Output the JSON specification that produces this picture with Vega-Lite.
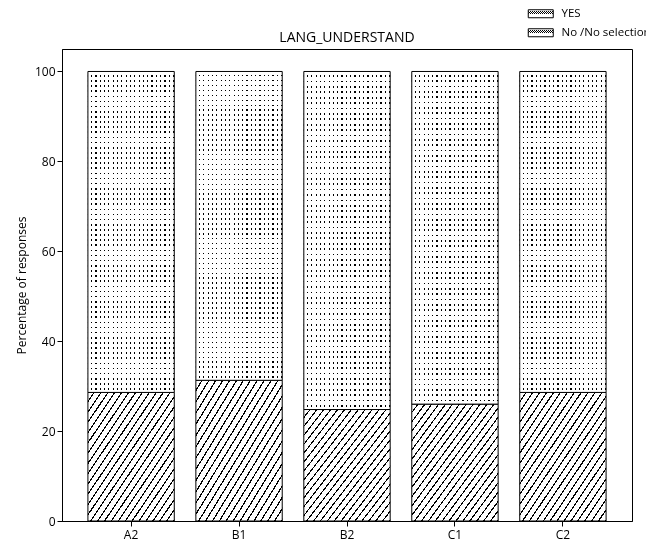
{
  "$schema": "https://vega.github.io/schema/vega-lite/v6.json",
  "width": 570,
  "height": 472,
  "autosize": {"type": "none"},
  "padding": {"left": 62, "top": 49, "right": 14, "bottom": 22},
  "title": {"text": "LANG_UNDERSTAND", "fontSize": 14, "fontWeight": "normal", "font": "Open Sans", "color": "black", "offset": 7, "dy": 44},
  "data": {"values": [
    {"level": "A2", "resp": "YES", "pct": 28.6},
    {"level": "A2", "resp": "No /No selection", "pct": 71.4},
    {"level": "B1", "resp": "YES", "pct": 31.3},
    {"level": "B1", "resp": "No /No selection", "pct": 68.7},
    {"level": "B2", "resp": "YES", "pct": 24.8},
    {"level": "B2", "resp": "No /No selection", "pct": 75.2},
    {"level": "C1", "resp": "YES", "pct": 26.0},
    {"level": "C1", "resp": "No /No selection", "pct": 74.0},
    {"level": "C2", "resp": "YES", "pct": 28.6},
    {"level": "C2", "resp": "No /No selection", "pct": 71.4}
  ]},
  "transform": [
    {"stack": "pct", "groupby": ["level"], "sort": [{"field": "resp", "order": "descending"}], "as": ["v0", "v1"]}
  ],
  "encoding": {
    "x": {"field": "level", "type": "nominal", "sort": ["A2", "B1", "B2", "C1", "C2"],
          "scale": {"paddingInner": 0.2, "paddingOuter": 0.24},
          "axis": {"title": null, "labelAngle": 0, "labelPadding": 3}},
    "y": {"field": "v1", "type": "quantitative",
          "scale": {"domain": [0, 105], "nice": false, "zero": true},
          "axis": {"title": "Percentage of responses", "values": [0, 20, 40, 60, 80, 100], "titlePadding": 6, "labelPadding": 2}},
    "y2": {"field": "v0"}
  },
  "layer": [
    {
      "transform": [{"filter": "datum.resp === 'YES'"}],
      "mark": {"type": "bar", "strokeWidth": 1,
        "fill": {"gradient": "linear", "x1": 0, "y1": 0, "x2": 1, "y2": 1, "stops": [
              {"offset": 0, "color": "#fff"}, {"offset": 0.032, "color": "#fff"}, {"offset": 0.032, "color": "#000"}, {"offset": 0.04, "color": "#000"},
              {"offset": 0.04, "color": "#fff"}, {"offset": 0.072, "color": "#fff"}, {"offset": 0.072, "color": "#000"}, {"offset": 0.08, "color": "#000"},
              {"offset": 0.08, "color": "#fff"}, {"offset": 0.112, "color": "#fff"}, {"offset": 0.112, "color": "#000"}, {"offset": 0.12, "color": "#000"},
              {"offset": 0.12, "color": "#fff"}, {"offset": 0.152, "color": "#fff"}, {"offset": 0.152, "color": "#000"}, {"offset": 0.16, "color": "#000"},
              {"offset": 0.16, "color": "#fff"}, {"offset": 0.192, "color": "#fff"}, {"offset": 0.192, "color": "#000"}, {"offset": 0.2, "color": "#000"},
              {"offset": 0.2, "color": "#fff"}, {"offset": 0.232, "color": "#fff"}, {"offset": 0.232, "color": "#000"}, {"offset": 0.24, "color": "#000"},
              {"offset": 0.24, "color": "#fff"}, {"offset": 0.272, "color": "#fff"}, {"offset": 0.272, "color": "#000"}, {"offset": 0.28, "color": "#000"},
              {"offset": 0.28, "color": "#fff"}, {"offset": 0.312, "color": "#fff"}, {"offset": 0.312, "color": "#000"}, {"offset": 0.32, "color": "#000"},
              {"offset": 0.32, "color": "#fff"}, {"offset": 0.352, "color": "#fff"}, {"offset": 0.352, "color": "#000"}, {"offset": 0.36, "color": "#000"},
              {"offset": 0.36, "color": "#fff"}, {"offset": 0.392, "color": "#fff"}, {"offset": 0.392, "color": "#000"}, {"offset": 0.4, "color": "#000"},
              {"offset": 0.4, "color": "#fff"}, {"offset": 0.432, "color": "#fff"}, {"offset": 0.432, "color": "#000"}, {"offset": 0.44, "color": "#000"},
              {"offset": 0.44, "color": "#fff"}, {"offset": 0.472, "color": "#fff"}, {"offset": 0.472, "color": "#000"}, {"offset": 0.48, "color": "#000"},
              {"offset": 0.48, "color": "#fff"}, {"offset": 0.512, "color": "#fff"}, {"offset": 0.512, "color": "#000"}, {"offset": 0.52, "color": "#000"},
              {"offset": 0.52, "color": "#fff"}, {"offset": 0.552, "color": "#fff"}, {"offset": 0.552, "color": "#000"}, {"offset": 0.56, "color": "#000"},
              {"offset": 0.56, "color": "#fff"}, {"offset": 0.592, "color": "#fff"}, {"offset": 0.592, "color": "#000"}, {"offset": 0.6, "color": "#000"},
              {"offset": 0.6, "color": "#fff"}, {"offset": 0.632, "color": "#fff"}, {"offset": 0.632, "color": "#000"}, {"offset": 0.64, "color": "#000"},
              {"offset": 0.64, "color": "#fff"}, {"offset": 0.672, "color": "#fff"}, {"offset": 0.672, "color": "#000"}, {"offset": 0.68, "color": "#000"},
              {"offset": 0.68, "color": "#fff"}, {"offset": 0.712, "color": "#fff"}, {"offset": 0.712, "color": "#000"}, {"offset": 0.72, "color": "#000"},
              {"offset": 0.72, "color": "#fff"}, {"offset": 0.752, "color": "#fff"}, {"offset": 0.752, "color": "#000"}, {"offset": 0.76, "color": "#000"},
              {"offset": 0.76, "color": "#fff"}, {"offset": 0.792, "color": "#fff"}, {"offset": 0.792, "color": "#000"}, {"offset": 0.8, "color": "#000"},
              {"offset": 0.8, "color": "#fff"}, {"offset": 0.832, "color": "#fff"}, {"offset": 0.832, "color": "#000"}, {"offset": 0.84, "color": "#000"},
              {"offset": 0.84, "color": "#fff"}, {"offset": 0.872, "color": "#fff"}, {"offset": 0.872, "color": "#000"}, {"offset": 0.88, "color": "#000"},
              {"offset": 0.88, "color": "#fff"}, {"offset": 0.912, "color": "#fff"}, {"offset": 0.912, "color": "#000"}, {"offset": 0.92, "color": "#000"},
              {"offset": 0.92, "color": "#fff"}, {"offset": 0.952, "color": "#fff"}, {"offset": 0.952, "color": "#000"}, {"offset": 0.96, "color": "#000"},
              {"offset": 0.96, "color": "#fff"}, {"offset": 0.992, "color": "#fff"}, {"offset": 0.992, "color": "#000"}, {"offset": 1, "color": "#000"}
        ]}
      },
      "encoding": {
        "stroke": {"field": "resp", "type": "nominal",
          "scale": {"domain": ["YES", "No /No selection"], "range": ["black", "black"]},
          "legend": {
            "title": null, "orient": "none", "legendX": 473, "legendY": -41, "padding": 0,
            "labelFont": "Open Sans", "labelFontSize": 11.5, "labelColor": "black", "labelOffset": 15, "labelLimit": 300,
            "symbolType": "M-2.5,-0.8H2.5V0.8H-2.5Z", "symbolSize": 100, "symbolStrokeWidth": 1, "rowPadding": 6,
            "encode": {"symbols": {"update": {"fill": {"signal": "datum.value === 'YES' ? {gradient:'linear',x1:0,y1:0,x2:1,y2:1,stops:[{offset:0,color:'#fff'},{offset:0.1,color:'#fff'},{offset:0.1,color:'#000'},{offset:0.125,color:'#000'},{offset:0.125,color:'#fff'},{offset:0.225,color:'#fff'},{offset:0.225,color:'#000'},{offset:0.25,color:'#000'},{offset:0.25,color:'#fff'},{offset:0.35,color:'#fff'},{offset:0.35,color:'#000'},{offset:0.375,color:'#000'},{offset:0.375,color:'#fff'},{offset:0.475,color:'#fff'},{offset:0.475,color:'#000'},{offset:0.5,color:'#000'},{offset:0.5,color:'#fff'},{offset:0.6,color:'#fff'},{offset:0.6,color:'#000'},{offset:0.625,color:'#000'},{offset:0.625,color:'#fff'},{offset:0.725,color:'#fff'},{offset:0.725,color:'#000'},{offset:0.75,color:'#000'},{offset:0.75,color:'#fff'},{offset:0.85,color:'#fff'},{offset:0.85,color:'#000'},{offset:0.875,color:'#000'},{offset:0.875,color:'#fff'},{offset:0.975,color:'#fff'},{offset:0.975,color:'#000'},{offset:1,color:'#000'}]} : {gradient:'linear',x1:0,y1:0,x2:0,y2:1,stops:[{offset:0,color:'#fff'},{offset:0.2,color:'#fff'},{offset:0.2,color:'#555'},{offset:0.35,color:'#555'},{offset:0.35,color:'#fff'},{offset:0.65,color:'#fff'},{offset:0.65,color:'#555'},{offset:0.8,color:'#555'},{offset:0.8,color:'#fff'},{offset:1,color:'#fff'}]}"}, "opacity": {"value": 1}, "fillOpacity": {"value": 1}}}}
          }
        }
      }
    },
    {
      "transform": [{"filter": "datum.resp !== 'YES'"}],
      "mark": {"type": "bar", "strokeWidth": 1,
        "fill": {"gradient": "linear", "x1": 0, "y1": 0, "x2": 0, "y2": 1, "stops": [
              {"offset": 0, "color": "#fff"}, {"offset": 0.011, "color": "#fff"}, {"offset": 0.011, "color": "#000"}, {"offset": 0.016, "color": "#000"},
              {"offset": 0.016, "color": "#fff"}, {"offset": 0.027, "color": "#fff"}, {"offset": 0.027, "color": "#000"}, {"offset": 0.032, "color": "#000"},
              {"offset": 0.032, "color": "#fff"}, {"offset": 0.043, "color": "#fff"}, {"offset": 0.043, "color": "#000"}, {"offset": 0.048, "color": "#000"},
              {"offset": 0.048, "color": "#fff"}, {"offset": 0.059, "color": "#fff"}, {"offset": 0.059, "color": "#000"}, {"offset": 0.064, "color": "#000"},
              {"offset": 0.064, "color": "#fff"}, {"offset": 0.075, "color": "#fff"}, {"offset": 0.075, "color": "#000"}, {"offset": 0.08, "color": "#000"},
              {"offset": 0.08, "color": "#fff"}, {"offset": 0.091, "color": "#fff"}, {"offset": 0.091, "color": "#000"}, {"offset": 0.096, "color": "#000"},
              {"offset": 0.096, "color": "#fff"}, {"offset": 0.107, "color": "#fff"}, {"offset": 0.107, "color": "#000"}, {"offset": 0.112, "color": "#000"},
              {"offset": 0.112, "color": "#fff"}, {"offset": 0.123, "color": "#fff"}, {"offset": 0.123, "color": "#000"}, {"offset": 0.128, "color": "#000"},
              {"offset": 0.128, "color": "#fff"}, {"offset": 0.139, "color": "#fff"}, {"offset": 0.139, "color": "#000"}, {"offset": 0.144, "color": "#000"},
              {"offset": 0.144, "color": "#fff"}, {"offset": 0.155, "color": "#fff"}, {"offset": 0.155, "color": "#000"}, {"offset": 0.16, "color": "#000"},
              {"offset": 0.16, "color": "#fff"}, {"offset": 0.171, "color": "#fff"}, {"offset": 0.171, "color": "#000"}, {"offset": 0.176, "color": "#000"},
              {"offset": 0.176, "color": "#fff"}, {"offset": 0.187, "color": "#fff"}, {"offset": 0.187, "color": "#000"}, {"offset": 0.192, "color": "#000"},
              {"offset": 0.192, "color": "#fff"}, {"offset": 0.203, "color": "#fff"}, {"offset": 0.203, "color": "#000"}, {"offset": 0.208, "color": "#000"},
              {"offset": 0.208, "color": "#fff"}, {"offset": 0.219, "color": "#fff"}, {"offset": 0.219, "color": "#000"}, {"offset": 0.224, "color": "#000"},
              {"offset": 0.224, "color": "#fff"}, {"offset": 0.235, "color": "#fff"}, {"offset": 0.235, "color": "#000"}, {"offset": 0.24, "color": "#000"},
              {"offset": 0.24, "color": "#fff"}, {"offset": 0.251, "color": "#fff"}, {"offset": 0.251, "color": "#000"}, {"offset": 0.256, "color": "#000"},
              {"offset": 0.256, "color": "#fff"}, {"offset": 0.267, "color": "#fff"}, {"offset": 0.267, "color": "#000"}, {"offset": 0.272, "color": "#000"},
              {"offset": 0.272, "color": "#fff"}, {"offset": 0.283, "color": "#fff"}, {"offset": 0.283, "color": "#000"}, {"offset": 0.288, "color": "#000"},
              {"offset": 0.288, "color": "#fff"}, {"offset": 0.299, "color": "#fff"}, {"offset": 0.299, "color": "#000"}, {"offset": 0.304, "color": "#000"},
              {"offset": 0.304, "color": "#fff"}, {"offset": 0.315, "color": "#fff"}, {"offset": 0.315, "color": "#000"}, {"offset": 0.32, "color": "#000"},
              {"offset": 0.32, "color": "#fff"}, {"offset": 0.331, "color": "#fff"}, {"offset": 0.331, "color": "#000"}, {"offset": 0.336, "color": "#000"},
              {"offset": 0.336, "color": "#fff"}, {"offset": 0.347, "color": "#fff"}, {"offset": 0.347, "color": "#000"}, {"offset": 0.352, "color": "#000"},
              {"offset": 0.352, "color": "#fff"}, {"offset": 0.363, "color": "#fff"}, {"offset": 0.363, "color": "#000"}, {"offset": 0.368, "color": "#000"},
              {"offset": 0.368, "color": "#fff"}, {"offset": 0.379, "color": "#fff"}, {"offset": 0.379, "color": "#000"}, {"offset": 0.384, "color": "#000"},
              {"offset": 0.384, "color": "#fff"}, {"offset": 0.395, "color": "#fff"}, {"offset": 0.395, "color": "#000"}, {"offset": 0.4, "color": "#000"},
              {"offset": 0.4, "color": "#fff"}, {"offset": 0.411, "color": "#fff"}, {"offset": 0.411, "color": "#000"}, {"offset": 0.416, "color": "#000"},
              {"offset": 0.416, "color": "#fff"}, {"offset": 0.427, "color": "#fff"}, {"offset": 0.427, "color": "#000"}, {"offset": 0.432, "color": "#000"},
              {"offset": 0.432, "color": "#fff"}, {"offset": 0.443, "color": "#fff"}, {"offset": 0.443, "color": "#000"}, {"offset": 0.448, "color": "#000"},
              {"offset": 0.448, "color": "#fff"}, {"offset": 0.459, "color": "#fff"}, {"offset": 0.459, "color": "#000"}, {"offset": 0.464, "color": "#000"},
              {"offset": 0.464, "color": "#fff"}, {"offset": 0.475, "color": "#fff"}, {"offset": 0.475, "color": "#000"}, {"offset": 0.48, "color": "#000"},
              {"offset": 0.48, "color": "#fff"}, {"offset": 0.491, "color": "#fff"}, {"offset": 0.491, "color": "#000"}, {"offset": 0.496, "color": "#000"},
              {"offset": 0.496, "color": "#fff"}, {"offset": 0.507, "color": "#fff"}, {"offset": 0.507, "color": "#000"}, {"offset": 0.512, "color": "#000"},
              {"offset": 0.512, "color": "#fff"}, {"offset": 0.523, "color": "#fff"}, {"offset": 0.523, "color": "#000"}, {"offset": 0.528, "color": "#000"},
              {"offset": 0.528, "color": "#fff"}, {"offset": 0.539, "color": "#fff"}, {"offset": 0.539, "color": "#000"}, {"offset": 0.544, "color": "#000"},
              {"offset": 0.544, "color": "#fff"}, {"offset": 0.555, "color": "#fff"}, {"offset": 0.555, "color": "#000"}, {"offset": 0.56, "color": "#000"},
              {"offset": 0.56, "color": "#fff"}, {"offset": 0.571, "color": "#fff"}, {"offset": 0.571, "color": "#000"}, {"offset": 0.576, "color": "#000"},
              {"offset": 0.576, "color": "#fff"}, {"offset": 0.587, "color": "#fff"}, {"offset": 0.587, "color": "#000"}, {"offset": 0.592, "color": "#000"},
              {"offset": 0.592, "color": "#fff"}, {"offset": 0.603, "color": "#fff"}, {"offset": 0.603, "color": "#000"}, {"offset": 0.608, "color": "#000"},
              {"offset": 0.608, "color": "#fff"}, {"offset": 0.619, "color": "#fff"}, {"offset": 0.619, "color": "#000"}, {"offset": 0.624, "color": "#000"},
              {"offset": 0.624, "color": "#fff"}, {"offset": 0.635, "color": "#fff"}, {"offset": 0.635, "color": "#000"}, {"offset": 0.64, "color": "#000"},
              {"offset": 0.64, "color": "#fff"}, {"offset": 0.651, "color": "#fff"}, {"offset": 0.651, "color": "#000"}, {"offset": 0.656, "color": "#000"},
              {"offset": 0.656, "color": "#fff"}, {"offset": 0.667, "color": "#fff"}, {"offset": 0.667, "color": "#000"}, {"offset": 0.672, "color": "#000"},
              {"offset": 0.672, "color": "#fff"}, {"offset": 0.683, "color": "#fff"}, {"offset": 0.683, "color": "#000"}, {"offset": 0.688, "color": "#000"},
              {"offset": 0.688, "color": "#fff"}, {"offset": 0.699, "color": "#fff"}, {"offset": 0.699, "color": "#000"}, {"offset": 0.704, "color": "#000"},
              {"offset": 0.704, "color": "#fff"}, {"offset": 0.715, "color": "#fff"}, {"offset": 0.715, "color": "#000"}, {"offset": 0.72, "color": "#000"},
              {"offset": 0.72, "color": "#fff"}, {"offset": 0.731, "color": "#fff"}, {"offset": 0.731, "color": "#000"}, {"offset": 0.736, "color": "#000"},
              {"offset": 0.736, "color": "#fff"}, {"offset": 0.747, "color": "#fff"}, {"offset": 0.747, "color": "#000"}, {"offset": 0.752, "color": "#000"},
              {"offset": 0.752, "color": "#fff"}, {"offset": 0.763, "color": "#fff"}, {"offset": 0.763, "color": "#000"}, {"offset": 0.768, "color": "#000"},
              {"offset": 0.768, "color": "#fff"}, {"offset": 0.779, "color": "#fff"}, {"offset": 0.779, "color": "#000"}, {"offset": 0.784, "color": "#000"},
              {"offset": 0.784, "color": "#fff"}, {"offset": 0.795, "color": "#fff"}, {"offset": 0.795, "color": "#000"}, {"offset": 0.8, "color": "#000"},
              {"offset": 0.8, "color": "#fff"}, {"offset": 0.811, "color": "#fff"}, {"offset": 0.811, "color": "#000"}, {"offset": 0.816, "color": "#000"},
              {"offset": 0.816, "color": "#fff"}, {"offset": 0.827, "color": "#fff"}, {"offset": 0.827, "color": "#000"}, {"offset": 0.832, "color": "#000"},
              {"offset": 0.832, "color": "#fff"}, {"offset": 0.843, "color": "#fff"}, {"offset": 0.843, "color": "#000"}, {"offset": 0.848, "color": "#000"},
              {"offset": 0.848, "color": "#fff"}, {"offset": 0.859, "color": "#fff"}, {"offset": 0.859, "color": "#000"}, {"offset": 0.864, "color": "#000"},
              {"offset": 0.864, "color": "#fff"}, {"offset": 0.875, "color": "#fff"}, {"offset": 0.875, "color": "#000"}, {"offset": 0.88, "color": "#000"},
              {"offset": 0.88, "color": "#fff"}, {"offset": 0.891, "color": "#fff"}, {"offset": 0.891, "color": "#000"}, {"offset": 0.896, "color": "#000"},
              {"offset": 0.896, "color": "#fff"}, {"offset": 0.907, "color": "#fff"}, {"offset": 0.907, "color": "#000"}, {"offset": 0.912, "color": "#000"},
              {"offset": 0.912, "color": "#fff"}, {"offset": 0.923, "color": "#fff"}, {"offset": 0.923, "color": "#000"}, {"offset": 0.928, "color": "#000"},
              {"offset": 0.928, "color": "#fff"}, {"offset": 0.939, "color": "#fff"}, {"offset": 0.939, "color": "#000"}, {"offset": 0.944, "color": "#000"},
              {"offset": 0.944, "color": "#fff"}, {"offset": 0.955, "color": "#fff"}, {"offset": 0.955, "color": "#000"}, {"offset": 0.96, "color": "#000"},
              {"offset": 0.96, "color": "#fff"}, {"offset": 0.971, "color": "#fff"}, {"offset": 0.971, "color": "#000"}, {"offset": 0.976, "color": "#000"},
              {"offset": 0.976, "color": "#fff"}, {"offset": 0.987, "color": "#fff"}, {"offset": 0.987, "color": "#000"}, {"offset": 0.992, "color": "#000"},
              {"offset": 0.992, "color": "#fff"}, {"offset": 1, "color": "#fff"}
        ]}
      },
      "encoding": {
        "stroke": {"field": "resp", "type": "nominal"}
      }
    },
    {
      "transform": [{"filter": "datum.resp !== 'YES'"}],
      "mark": {"type": "bar", "stroke": "black", "strokeWidth": 1, "blend": "lighten",
        "fill": {"gradient": "linear", "x1": 0, "y1": 0, "x2": 1, "y2": 0, "stops": [
          {"offset": 0, "color": "#fff"}, {"offset": 0.036, "color": "#fff"}, {"offset": 0.036, "color": "#000"}, {"offset": 0.05, "color": "#000"},
          {"offset": 0.05, "color": "#fff"}, {"offset": 0.086, "color": "#fff"}, {"offset": 0.086, "color": "#000"}, {"offset": 0.1, "color": "#000"},
          {"offset": 0.1, "color": "#fff"}, {"offset": 0.136, "color": "#fff"}, {"offset": 0.136, "color": "#000"}, {"offset": 0.15, "color": "#000"},
          {"offset": 0.15, "color": "#fff"}, {"offset": 0.186, "color": "#fff"}, {"offset": 0.186, "color": "#000"}, {"offset": 0.2, "color": "#000"},
          {"offset": 0.2, "color": "#fff"}, {"offset": 0.236, "color": "#fff"}, {"offset": 0.236, "color": "#000"}, {"offset": 0.25, "color": "#000"},
          {"offset": 0.25, "color": "#fff"}, {"offset": 0.286, "color": "#fff"}, {"offset": 0.286, "color": "#000"}, {"offset": 0.3, "color": "#000"},
          {"offset": 0.3, "color": "#fff"}, {"offset": 0.336, "color": "#fff"}, {"offset": 0.336, "color": "#000"}, {"offset": 0.35, "color": "#000"},
          {"offset": 0.35, "color": "#fff"}, {"offset": 0.386, "color": "#fff"}, {"offset": 0.386, "color": "#000"}, {"offset": 0.4, "color": "#000"},
          {"offset": 0.4, "color": "#fff"}, {"offset": 0.436, "color": "#fff"}, {"offset": 0.436, "color": "#000"}, {"offset": 0.45, "color": "#000"},
          {"offset": 0.45, "color": "#fff"}, {"offset": 0.486, "color": "#fff"}, {"offset": 0.486, "color": "#000"}, {"offset": 0.5, "color": "#000"},
          {"offset": 0.5, "color": "#fff"}, {"offset": 0.536, "color": "#fff"}, {"offset": 0.536, "color": "#000"}, {"offset": 0.55, "color": "#000"},
          {"offset": 0.55, "color": "#fff"}, {"offset": 0.586, "color": "#fff"}, {"offset": 0.586, "color": "#000"}, {"offset": 0.6, "color": "#000"},
          {"offset": 0.6, "color": "#fff"}, {"offset": 0.636, "color": "#fff"}, {"offset": 0.636, "color": "#000"}, {"offset": 0.65, "color": "#000"},
          {"offset": 0.65, "color": "#fff"}, {"offset": 0.686, "color": "#fff"}, {"offset": 0.686, "color": "#000"}, {"offset": 0.7, "color": "#000"},
          {"offset": 0.7, "color": "#fff"}, {"offset": 0.736, "color": "#fff"}, {"offset": 0.736, "color": "#000"}, {"offset": 0.75, "color": "#000"},
          {"offset": 0.75, "color": "#fff"}, {"offset": 0.786, "color": "#fff"}, {"offset": 0.786, "color": "#000"}, {"offset": 0.8, "color": "#000"},
          {"offset": 0.8, "color": "#fff"}, {"offset": 0.836, "color": "#fff"}, {"offset": 0.836, "color": "#000"}, {"offset": 0.85, "color": "#000"},
          {"offset": 0.85, "color": "#fff"}, {"offset": 0.886, "color": "#fff"}, {"offset": 0.886, "color": "#000"}, {"offset": 0.9, "color": "#000"},
          {"offset": 0.9, "color": "#fff"}, {"offset": 0.936, "color": "#fff"}, {"offset": 0.936, "color": "#000"}, {"offset": 0.95, "color": "#000"},
          {"offset": 0.95, "color": "#fff"}, {"offset": 0.986, "color": "#fff"}, {"offset": 0.986, "color": "#000"}, {"offset": 1, "color": "#000"}
        ]}
      },
      "encoding": {}
    }
  ],
  "config": {
    "font": "Open Sans",
    "view": {"stroke": "black", "strokeWidth": 1},
    "axis": {"domainColor": "black", "tickColor": "black", "labelColor": "black", "titleColor": "black", "grid": false,
             "labelFont": "Open Sans", "labelFontSize": 12, "titleFont": "Open Sans", "titleFontSize": 12, "titleFontWeight": "normal", "tickSize": 5}
  }
}
